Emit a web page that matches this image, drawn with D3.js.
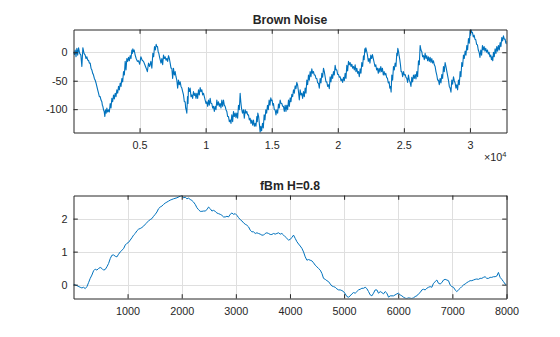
<!DOCTYPE html>
<html>
<head>
<meta charset="utf-8">
<script src="https://cdn.jsdelivr.net/npm/d3@7"></script>
<style>
  body { margin: 0; background: #fff; }
  svg { display: block; }
  text { font-family: "Liberation Sans", Arial, Helvetica, sans-serif; fill: #262626; }
</style>
</head>
<body>
<svg id="fig" width="560" height="337"></svg>
<script>
// ---- Brown noise: sample index with the upper and lower edge of the trace ----
const brownIndex = [
  1, 129, 255, 381, 558, 709, 885, 1012, 1138, 1264,
  1390, 1516, 1642, 1768, 1894, 2020, 2147, 2222, 2323, 2424,
  2525, 2651, 2777, 2903, 3029, 3155, 3281, 3408, 3534, 3660,
  3786, 3912, 4038, 4164, 4290, 4416, 4492, 4593, 4744, 4921,
  5098, 5299, 5501, 5678, 5854, 6005, 6131, 6257, 6358, 6459,
  6560, 6686, 6812, 6939, 7065, 7191, 7317, 7442, 7568, 7694,
  7820, 7947, 8073, 8199, 8325, 8451, 8527, 8627, 8703, 8829,
  8955, 9081, 9208, 9334, 9460, 9586, 9712, 9838, 9964, 10090,
  10216, 10342, 10469, 10595, 10721, 10847, 10973, 11099, 11225, 11351,
  11477, 11603, 11730, 11856, 11982, 12108, 12234, 12360, 12486, 12612,
  12713, 12864, 12991, 13117, 13243, 13369, 13495, 13621, 13747, 13873,
  13949, 14075, 14176, 14302, 14428, 14554, 14680, 14806, 14932, 15033,
  15134, 15260, 15386, 15513, 15639, 15765, 15891, 16017, 16143, 16270,
  16396, 16522, 16648, 16774, 16900, 17026, 17152, 17278, 17404, 17531,
  17657, 17783, 17909, 18035, 18161, 18287, 18413, 18539, 18665, 18792,
  18918, 19044, 19170, 19296, 19422, 19548, 19674, 19800, 19926, 20053,
  20179, 20305, 20431, 20557, 20683, 20809, 20935, 21061, 21187, 21314,
  21440, 21566, 21692, 21818, 21944, 22045, 22121, 22247, 22373, 22499,
  22625, 22751, 22877, 23003, 23129, 23255, 23381, 23507, 23634, 23760,
  23886, 23987, 24088, 24214, 24340, 24466, 24542, 24643, 24744, 24845,
  24971, 25097, 25223, 25349, 25475, 25601, 25727, 25854, 25980, 26106,
  26232, 26358, 26484, 26610, 26736, 26862, 26988, 27115, 27241, 27367,
  27493, 27619, 27745, 27871, 27997, 28123, 28249, 28376, 28502, 28628,
  28754, 28880, 29006, 29132, 29258, 29384, 29510, 29637, 29763, 29889,
  30015, 30091, 30191, 30317, 30443, 30569, 30696, 30822, 30948, 31074,
  31200, 31326, 31452, 31578, 31679, 31780, 31906, 32033, 32159, 32285,
  32411, 32537, 32663, 32768
];
const brownHigh = [
  1, 4, 7, 8, -5, 8, -5, -8, -14, -19,
  -31, -40, -49, -60, -72, -78, -87, -95, -104, -101,
  -98, -101, -90, -81, -75, -72, -66, -60, -54, -46,
  -34, -16, -11, -9, -6, 4, 6, 4, -11, -15,
  -8, -16, -28, -19, -16, -2, 10, 14, 10, -2,
  -13, -11, -5, -8, -11, -6, -19, -28, -28, -34,
  -49, -49, -52, -63, -75, -87, -101, -78, -62, -63,
  -75, -69, -72, -72, -66, -62, -66, -72, -84, -87,
  -84, -81, -90, -95, -95, -84, -87, -90, -84, -84,
  -95, -104, -113, -119, -110, -104, -107, -107, -93, -72,
  -98, -101, -101, -104, -110, -116, -119, -119, -125, -113,
  -107, -128, -130, -125, -110, -101, -93, -84, -80, -84,
  -90, -101, -101, -91, -84, -90, -95, -93, -93, -84,
  -80, -74, -66, -59, -53, -69, -66, -72, -69, -63,
  -49, -40, -34, -29, -34, -40, -46, -54, -46, -37,
  -28, -43, -52, -57, -43, -39, -34, -23, -31, -39,
  -43, -47, -44, -37, -23, -16, -18, -21, -25, -22,
  -28, -34, -29, -18, -6, 6, 8, -5, -11, -5,
  -4, -18, -22, -28, -28, -25, -28, -34, -37, -46,
  -52, -60, -40, -25, -19, -2, 7, -6, -22, -34,
  -34, -39, -46, -40, -53, -44, -40, -39, -34, -15,
  12, 1, -6, -2, -6, -8, -9, -11, -15, -25,
  -40, -49, -46, -39, -25, -18, -33, -49, -63, -49,
  -43, -54, -57, -49, -34, -18, -5, 2, 12, 24,
  38, 40, 35, 30, 22, 13, 0, 4, 12, 10,
  7, 4, 0, -5, -8, 0, 6, 10, 12, 17,
  26, 29, 23, 19
];
const brownLow = [
  -4, -8, -5, -2, -25, -2, -11, -14, -19, -28,
  -37, -46, -54, -66, -78, -84, -93, -101, -113, -107,
  -105, -105, -98, -87, -82, -78, -72, -66, -60, -52,
  -40, -31, -16, -15, -11, -2, 1, -5, -16, -21,
  -14, -22, -34, -25, -28, -8, 4, 10, 1, -8,
  -19, -22, -11, -14, -16, -11, -28, -46, -40, -43,
  -63, -57, -60, -69, -87, -98, -107, -90, -69, -78,
  -81, -76, -81, -81, -75, -69, -75, -78, -90, -95,
  -93, -90, -98, -104, -101, -93, -95, -98, -95, -93,
  -101, -113, -122, -125, -122, -113, -115, -116, -101, -87,
  -107, -116, -107, -110, -119, -125, -128, -130, -130, -122,
  -113, -141, -138, -133, -119, -107, -101, -93, -85, -93,
  -101, -110, -107, -98, -90, -95, -104, -104, -101, -95,
  -87, -78, -72, -64, -58, -84, -75, -81, -78, -72,
  -57, -49, -43, -37, -40, -46, -54, -63, -54, -44,
  -34, -52, -60, -64, -52, -46, -40, -31, -39, -44,
  -50, -53, -50, -46, -33, -22, -25, -28, -31, -34,
  -37, -43, -37, -25, -13, 0, 2, -16, -19, -11,
  -11, -25, -31, -37, -35, -34, -40, -40, -44, -54,
  -63, -70, -49, -31, -25, -6, 2, -13, -34, -43,
  -40, -44, -53, -49, -60, -52, -46, -47, -43, -22,
  4, -8, -13, -11, -15, -16, -18, -19, -22, -34,
  -49, -57, -54, -46, -34, -25, -41, -60, -70, -56,
  -50, -63, -66, -57, -43, -25, -11, -5, 4, 16,
  30, 35, 27, 23, 14, 4, -9, -5, 4, 2,
  0, -3, -8, -13, -15, -8, -2, 2, 4, 10,
  20, 23, 16, 14
];
const brownXTicks = [5000, 10000, 15000, 20000, 25000, 30000];
const brownXTickLabels = ["0.5", "1", "1.5", "2", "2.5", "3"];
const brownYTicks = [-100, -50, 0];

// ---- fBm, H = 0.8 ----
const fbmX = [
  1, 64, 125, 156, 187, 218, 249, 279, 310, 341,
  372, 402, 433, 464, 495, 526, 556, 587, 618, 649,
  680, 710, 741, 772, 803, 833, 864, 895, 926, 957,
  987, 1018, 1049, 1080, 1110, 1141, 1172, 1203, 1234, 1264,
  1295, 1326, 1357, 1388, 1418, 1449, 1480, 1511, 1542, 1572,
  1603, 1634, 1665, 1695, 1726, 1757, 1788, 1819, 1849,
  1911, 1973, 2003, 2034, 2065, 2096, 2127, 2157, 2188, 2219,
  2250, 2281, 2311, 2342, 2373, 2404, 2434, 2465, 2496, 2527,
  2558, 2588, 2619, 2650, 2681, 2712, 2742, 2773, 2804, 2835,
  2865, 2896, 2927, 2958, 2989, 3019, 3050, 3081, 3112, 3143,
  3173, 3204, 3235, 3266, 3296, 3327, 3358, 3389, 3419, 3450,
  3481, 3512, 3542, 3573, 3604, 3635, 3666, 3696, 3727, 3758,
  3789, 3819,
  3851, 3882, 3912, 3943, 3974, 4005, 4035, 4066, 4097, 4128,
  4159, 4189, 4220, 4251, 4282, 4313, 4343, 4374, 4405, 4436,
  4466, 4497, 4528, 4559, 4590, 4620, 4651, 4682, 4713, 4744,
  4774, 4805, 4836, 4867, 4898, 4928, 4959, 4990, 5021, 5051,
  5082, 5113, 5144, 5174, 5205, 5236, 5267, 5297, 5328, 5359,
  5390, 5420, 5451, 5482, 5513, 5543, 5574, 5605, 5636, 5667,
  5698, 5728, 5759, 5790, 5821, 5851,
  5913, 5974, 6005, 6036, 6067, 6097, 6128, 6159, 6190, 6220,
  6251, 6282, 6313, 6344, 6374, 6405, 6436, 6467, 6497, 6528,
  6559, 6590, 6621, 6651, 6682, 6713, 6744, 6774, 6805, 6836,
  6867, 6898, 6928, 6959, 6990, 7021, 7051, 7082, 7113, 7144,
  7174, 7205, 7236, 7267, 7297, 7328, 7359, 7390, 7421, 7451,
  7482, 7513, 7544, 7574, 7605, 7636, 7667, 7698, 7728, 7759,
  7790, 7821, 7851, 7882, 7913, 7944, 7974, 8000
];
const fbmY = [
  0.01, -0.03, -0.08, -0.10, -0.08, -0.12, -0.06, 0.06, 0.19, 0.29,
  0.42, 0.47, 0.44, 0.49, 0.52, 0.49, 0.44, 0.46, 0.54, 0.64,
  0.79, 0.89, 0.90, 0.86, 0.84, 0.92, 0.99, 1.04, 1.09, 1.20,
  1.25, 1.28, 1.35, 1.42, 1.50, 1.55, 1.63, 1.68, 1.70, 1.73,
  1.77, 1.83, 1.88, 1.93, 1.97, 2.00, 2.07, 2.13, 2.20, 2.30,
  2.35, 2.38, 2.43, 2.47, 2.50, 2.53, 2.56, 2.58, 2.60,
  2.63, 2.68, 2.70, 2.63, 2.65, 2.60, 2.62, 2.58, 2.55, 2.50,
  2.43, 2.33, 2.27, 2.22, 2.22, 2.23, 2.23, 2.27, 2.35, 2.30,
  2.23, 2.25, 2.22, 2.17, 2.15, 2.13, 2.10, 2.05, 2.05, 2.07,
  2.05, 2.13, 2.17, 2.13, 2.15, 2.10, 2.03, 1.97, 1.93, 1.87,
  1.83, 1.80, 1.75, 1.65, 1.60, 1.60, 1.55, 1.57, 1.55, 1.53,
  1.50, 1.50, 1.55, 1.57, 1.55, 1.52, 1.52, 1.55, 1.53, 1.55,
  1.57, 1.53,
  1.55, 1.50, 1.45, 1.40, 1.35, 1.37, 1.43, 1.50, 1.40, 1.30,
  1.23, 1.17, 1.10, 0.99, 0.84, 0.74, 0.76, 0.74, 0.72, 0.66,
  0.59, 0.54, 0.49, 0.44, 0.34, 0.19, 0.16, 0.12, 0.09, 0.02,
  -0.04, -0.06, -0.08, -0.13, -0.16, -0.16, -0.18, -0.21, -0.28, -0.36,
  -0.38, -0.34, -0.28, -0.24, -0.26, -0.21, -0.16, -0.14, -0.11, -0.11,
  -0.08, -0.12, -0.21, -0.31, -0.34, -0.26, -0.16, -0.16, -0.26, -0.21,
  -0.24, -0.28, -0.21, -0.26, -0.38, -0.34,
  -0.34, -0.28, -0.26, -0.31, -0.34, -0.38, -0.41, -0.42, -0.40, -0.41,
  -0.42, -0.40, -0.36, -0.34, -0.28, -0.24, -0.16, -0.14, -0.16, -0.11,
  -0.08, -0.06, -0.08, 0.04, 0.09, 0.14, 0.04, 0.02, 0.06, 0.14,
  0.16, 0.14, 0.12, -0.01, -0.06, -0.08, -0.16, -0.21, -0.16, -0.11,
  -0.06, -0.01, 0.02, 0.06, 0.09, 0.12, 0.12, 0.14, 0.16, 0.17,
  0.16, 0.19, 0.19, 0.22, 0.24, 0.19, 0.19, 0.22, 0.22, 0.24,
  0.24, 0.26, 0.37, 0.22, 0.16, 0.09, 0.02, -0.01
];
const fbmXTicks = [1000, 2000, 3000, 4000, 5000, 6000, 7000, 8000];
const fbmYTicks = [0, 1, 2];

// ---- Styling ----
const AX = "#262626", GRID = "#dfdfdf", LINE = "#0072BD";
const TICK = 4.3;
const left = 73.5, right = 506.5;

const svg = d3.select("#fig");
svg.append("rect").attr("width", 560).attr("height", 337).attr("fill", "#fff");

// Draws one axes box with inward ticks on all four sides
function panel(cfg) {
  const { top, bottom, xDomain, yDomain, xTicks, xLabels, yTicks, title, points, id, lineWidth } = cfg;
  const x = d3.scaleLinear().domain(xDomain).range([left, right]);
  const y = d3.scaleLinear().domain(yDomain).range([bottom, top]);
  const g = svg.append("g");

  g.append("clipPath").attr("id", id)
    .append("rect").attr("x", left).attr("y", top)
    .attr("width", right - left).attr("height", bottom - top);

  // grid
  g.append("g").selectAll("line").data(xTicks).join("line")
    .attr("x1", d => Math.round(x(d)) + 0.5).attr("x2", d => Math.round(x(d)) + 0.5)
    .attr("y1", top).attr("y2", bottom)
    .attr("stroke", GRID).attr("stroke-width", 1);
  g.append("g").selectAll("line").data(yTicks).join("line")
    .attr("y1", d => Math.round(y(d)) + 0.5).attr("y2", d => Math.round(y(d)) + 0.5)
    .attr("x1", left).attr("x2", right)
    .attr("stroke", GRID).attr("stroke-width", 1);

  // data
  g.append("path").datum(points)
    .attr("clip-path", `url(#${id})`)
    .attr("fill", "none").attr("stroke", LINE).attr("stroke-width", lineWidth)
    .attr("stroke-linejoin", "round")
    .attr("d", d3.line().x(d => x(d[0])).y(d => y(d[1])));

  // axes (inward ticks)
  const fmtX = d => xLabels[xTicks.indexOf(d)];
  const bottomAxis = d3.axisBottom(x).tickValues(xTicks).tickFormat(fmtX)
    .tickSizeInner(-TICK).tickSizeOuter(0).tickPadding(8.5);
  const topAxis = d3.axisTop(x).tickValues(xTicks).tickFormat("")
    .tickSizeInner(-TICK).tickSizeOuter(0);
  const leftAxis = d3.axisLeft(y).tickValues(yTicks).tickFormat(d3.format("d"))
    .tickSizeInner(-TICK).tickSizeOuter(0).tickPadding(6);
  const rightAxis = d3.axisRight(y).tickValues(yTicks).tickFormat("")
    .tickSizeInner(-TICK).tickSizeOuter(0);

  const styleAxis = sel => {
    sel.select(".domain").attr("stroke", AX).attr("stroke-width", 1);
    sel.selectAll(".tick line").attr("stroke", AX).attr("stroke-width", 1);
    sel.selectAll(".tick text").attr("fill", AX).style("font-size", "10.8px")
      .style("font-family", '"Liberation Sans", Arial, sans-serif');
  };
  g.append("g").attr("transform", `translate(0,${bottom})`).call(bottomAxis).call(styleAxis);
  g.append("g").attr("transform", `translate(0,${top})`).call(topAxis).call(styleAxis);
  g.append("g").attr("transform", `translate(${left},0)`).call(leftAxis).call(styleAxis);
  g.append("g").attr("transform", `translate(${right},0)`).call(rightAxis).call(styleAxis);
  g.selectAll(".tick text").text(function () { return this.textContent.replace("\u2212", "-"); });

  g.append("text").attr("x", (left + right) / 2).attr("y", top - 5.5)
    .attr("text-anchor", "middle").style("font-size", "12.2px").style("font-weight", "bold")
    .text(title);
  return { x, y, g };
}

// Brown noise trace: alternate between the upper and lower edge of each reading
const brownPoints = [];
brownIndex.forEach((idx, k) => {
  const next = k < brownIndex.length - 1 ? brownIndex[k + 1] : idx;
  brownPoints.push([idx, brownHigh[k]]);
  brownPoints.push([(idx + next) / 2, brownLow[k]]);
});

const top1 = panel({
  id: "clip-brown", top: 29.5, bottom: 132.5,
  xDomain: [1, 32768],
  yDomain: [d3.min(brownLow), d3.max(brownHigh)],
  xTicks: brownXTicks, xLabels: brownXTickLabels, yTicks: brownYTicks,
  title: "Brown Noise", points: brownPoints, lineWidth: 1.1
});

// exponent label for the x axis
const expLabel = top1.g.append("text").attr("x", right).attr("y", 161)
  .attr("text-anchor", "end").style("font-size", "10.8px");
expLabel.append("tspan").text("\u00d710");
expLabel.append("tspan").attr("dy", -4.5).style("font-size", "7.5px").text("4");

const fbmPoints = fbmX.map((v, i) => [v, fbmY[i]]);
panel({
  id: "clip-fbm", top: 195.5, bottom: 298.5,
  xDomain: [1, 8000],
  yDomain: d3.extent(fbmY),
  xTicks: fbmXTicks, xLabels: fbmXTicks.map(String), yTicks: fbmYTicks,
  title: "fBm H=0.8", points: fbmPoints, lineWidth: 1
});
</script>
</body>
</html>
